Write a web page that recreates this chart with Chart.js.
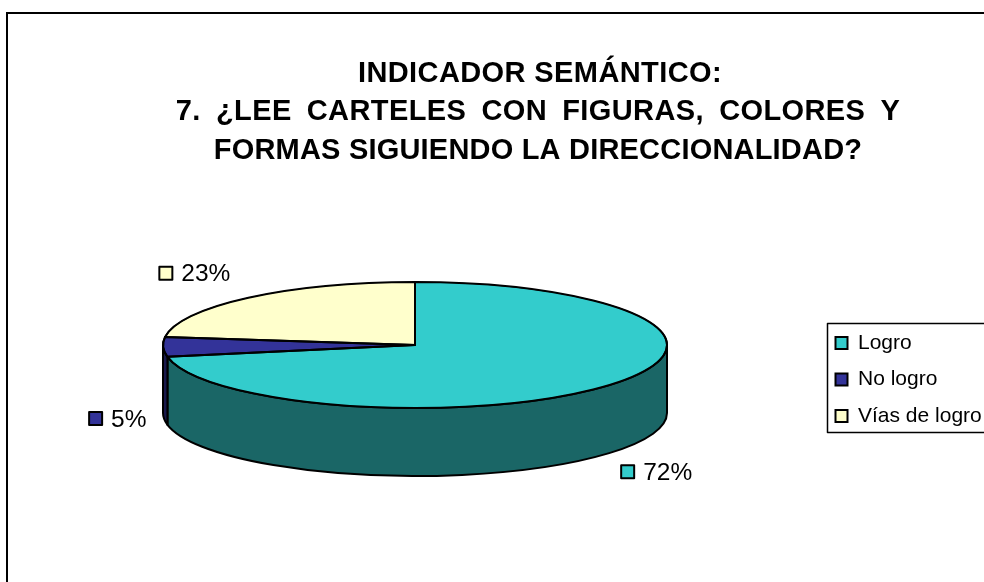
<!DOCTYPE html>
<html><head><meta charset="utf-8">
<style>html,body{margin:0;padding:0;background:#fff}#w{width:984px;height:582px;position:relative;overflow:hidden}</style>
<script src="https://cdn.jsdelivr.net/npm/chart.js@4"></script>
</head><body><div id="w"><canvas id="c" width="984" height="582"></canvas></div>
<script>
const categories = ['Logro','No logro','Vías de logro'];
const values = [72,5,23];
const valueLabels = ['72%','5%','23%'];
const topColors = ['#33CCCC','#333399','#FFFFCC'];
const wallColors = ['#1A6666','#1A1A4D','#80806A'];
const titleLines = ['INDICADOR SEMÁNTICO:','7. ¿LEE CARTELES CON FIGURAS, COLORES Y','FORMAS SIGUIENDO LA DIRECCIONALIDAD?'];

const FONT = '"Liberation Sans", Arial, sans-serif';
const SQUASH = 0.25, DEPTH = 68;
// offset of each value label's key square from the slice's mid-angle rim point
const labelOffsets = [[12,80],[-74,65],[-89,-31]];

const fake3d = {
  id:'fake3d',
  beforeDraw(chart){
    const c = chart.ctx;
    c.save();
    c.fillStyle='#fff'; c.fillRect(0,0,984,582);
    c.strokeStyle='#000'; c.lineWidth=2;
    c.strokeRect(7,13,1100,1100);
    c.restore();
  },
  beforeDatasetsDraw(chart){
    const c = chart.ctx, arcs = chart.getDatasetMeta(0).data;
    arcs.forEach((a,i)=>{
      const ry=a.outerRadius*SQUASH, s=Math.max(a.startAngle,0), e=Math.min(a.endAngle,Math.PI);
      if(e<=s) return;
      c.beginPath();
      c.ellipse(a.x,a.y,a.outerRadius,ry,0,s,e);
      c.lineTo(a.x+a.outerRadius*Math.cos(e),a.y+ry*Math.sin(e)+DEPTH);
      c.ellipse(a.x,a.y+DEPTH,a.outerRadius,ry,0,e,s,true);
      c.closePath();
      c.fillStyle=wallColors[i]; c.fill();
      c.strokeStyle='#000'; c.lineWidth=2; c.lineJoin='round'; c.stroke();
    });
    const a0=arcs[0];
    c.save();
    c.translate(a0.x,a0.y); c.scale(1,SQUASH); c.translate(-a0.x,-a0.y);
  },
  afterDatasetsDraw(chart){
    const c = chart.ctx, arcs = chart.getDatasetMeta(0).data;
    c.restore();
    arcs.forEach(a=>{
      const ry=a.outerRadius*SQUASH;
      c.beginPath();
      c.moveTo(a.x,a.y);
      c.ellipse(a.x,a.y,a.outerRadius,ry,0,a.startAngle,a.endAngle);
      c.closePath();
      c.strokeStyle='#000'; c.lineWidth=2; c.lineJoin='round'; c.stroke();
    });
    arcs.forEach((a,i)=>{
      const m=(a.startAngle+a.endAngle)/2;
      const x=a.x+a.outerRadius*Math.cos(m)+labelOffsets[i][0];
      const y=a.y+a.outerRadius*SQUASH*Math.sin(m)+labelOffsets[i][1];
      c.fillStyle=topColors[i]; c.strokeStyle='#000'; c.lineWidth=2;
      c.fillRect(x,y,13,13); c.strokeRect(x,y,13,13);
      c.fillStyle='#000'; c.font='24.5px '+FONT; c.textAlign='left'; c.textBaseline='middle';
      c.fillText(valueLabels[i],x+22,y+8);
    });
  },
  afterLayout(chart){
    const l=chart.legend;
    l.left=820; l.right=1000; l.top=317; l.bottom=700;
  },
  afterDraw(chart){
    const c = chart.ctx;
    c.save();
    c.strokeStyle='#000'; c.lineWidth=1.5; c.strokeRect(827.5,323.5,300,109);
    c.fillStyle='#000'; c.font='bold 29px '+FONT; c.textAlign='center'; c.textBaseline='alphabetic';
    const cx=[540,538,538], ys=[81.5,119.5,158.5], sp=[0,6.7,0], ls=[0.4,0.4,0.2];
    titleLines.forEach((t,i)=>{ c.wordSpacing=sp[i]+'px'; c.letterSpacing=ls[i]+'px'; c.fillText(t,cx[i],ys[i]); });
    c.restore();
  }
};

new Chart(document.getElementById('c'),{
  type:'pie',
  data:{labels:categories,datasets:[{data:values,backgroundColor:topColors,borderColor:'#000',borderWidth:2}]},
  options:{
    responsive:false,animation:false,radius:252,
    layout:{padding:{left:0,right:154,top:108,bottom:0}},
    plugins:{
      title:{display:false},tooltip:{enabled:false},
      legend:{display:true,position:'chartArea',align:'start',
        labels:{color:'#000',font:{family:FONT,size:21},boxWidth:12,boxHeight:12,padding:15.5}}
    }
  },
  plugins:[fake3d]
});
</script></body></html>
